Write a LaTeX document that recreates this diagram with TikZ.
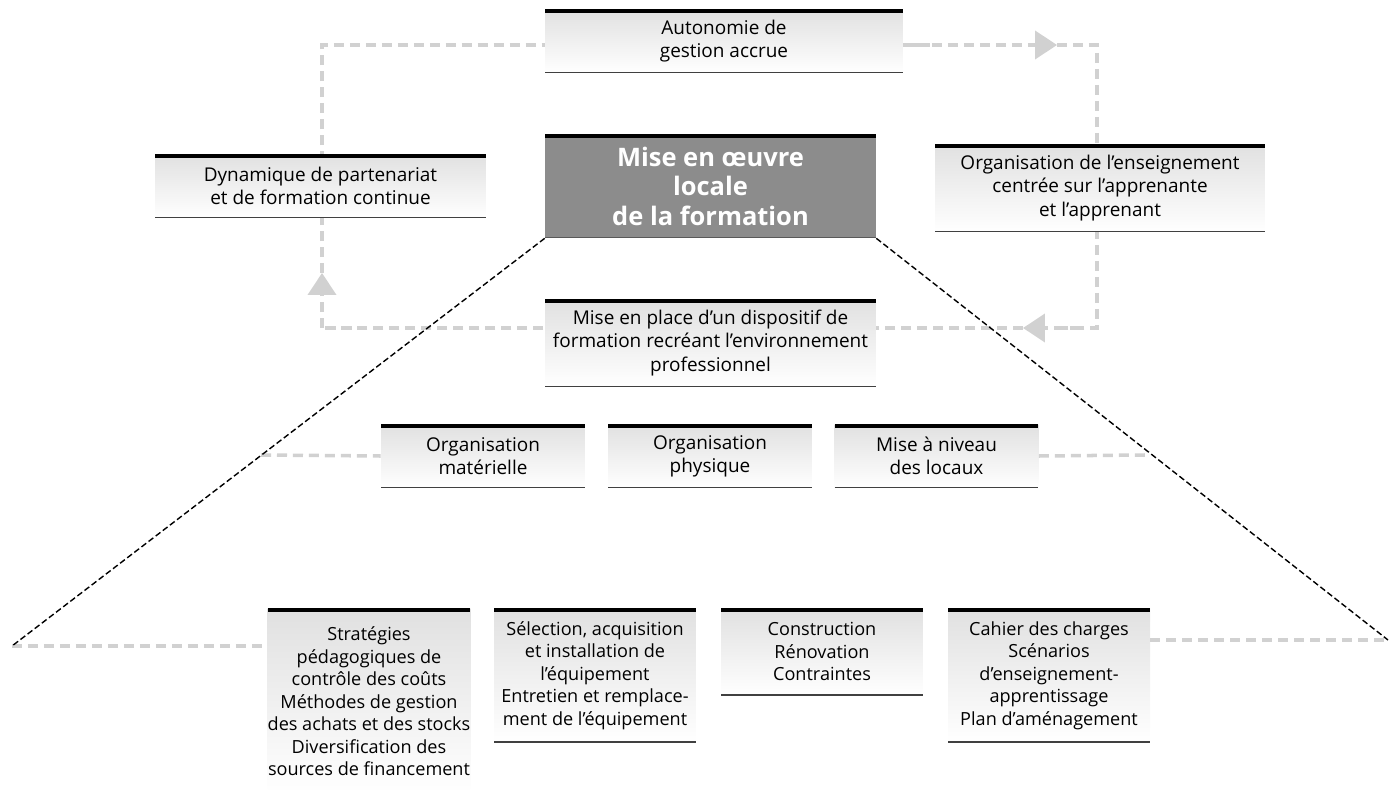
\documentclass[tikz,border=0pt]{standalone}
\usepackage{fontspec}
\setmainfont{Open Sans}
\usetikzlibrary{arrows.meta,calc}
\tikzset{
  box/.style={inner sep=0pt, align=center, top color=black!12, bottom color=white,
    font=\fontsize{10.8}{13.2}\selectfont,
    path picture={
      \draw[line width=4.6pt] (path picture bounding box.north west) -- (path picture bounding box.north east);
      \draw[black!75,line width=1.6pt] (path picture bounding box.south west) -- (path picture bounding box.south east);}},
  smallbox/.style={box, font=\fontsize{10.3}{12.8}\selectfont},
  centralbox/.style={inner sep=0pt, align=center, fill=black!45, text=white,
    font=\fontsize{14.5}{16.8}\selectfont\bfseries,
    path picture={
      \draw[line width=4.6pt] (path picture bounding box.north west) -- (path picture bounding box.north east);
      \draw[black!65,line width=1.6pt] (path picture bounding box.south west) -- (path picture bounding box.south east);}},
  loopline/.style={draw=black!18, line width=2pt, dash pattern=on 5.7pt off 3.4pt},
  looparrow/.style={loopline, -{Triangle[length=12.5pt,width=16pt]}},
  diag/.style={draw=black, line width=0.8pt, dash pattern=on 3.4pt off 1.7pt},
}
\begin{document}
\begin{tikzpicture}[x=0.02cm,y=-0.02cm]
\useasboundingbox (0,0) rectangle (1398,790);
% loop coordinates
\coordinate (c1) at (322,45);
\coordinate (c2) at (1097,45);
\coordinate (c3) at (1097,328);
\coordinate (c4) at (322,328);
\coordinate (tipL) at (322,273);
\coordinate (tipT) at (1057,45);
\coordinate (tipB) at (1023,328);
\coordinate (L) at (12,646);
\coordinate (R) at (1388,640);
\coordinate (ml) at (261,455);
\coordinate (mr) at (1145,455);
% gray loop
\draw[looparrow] (c4) -- (tipL);
\draw[loopline] (tipL) -- (c1) -- (930,45);
\draw[looparrow] (900,45) -- (tipT);
\draw[loopline] (tipT) -- (c2) -- (c3) -- (1060,328);
\draw[looparrow] (1080,328) -- (tipB);
\draw[loopline] (tipB) -- (c4);
% boxes
\node[box, minimum width=7.16cm, minimum height=1.28cm] (auto) at (724,41) {Autonomie de\\gestion accrue};
\node[centralbox, minimum width=6.62cm, minimum height=2.08cm] (central) at (710.5,186) {Mise en œuvre\\locale\\de la formation};
\node[box, minimum width=6.62cm, minimum height=1.28cm] (dyn) at (320.5,186) {Dynamique de partenariat\\et de formation continue};
\node[box, minimum width=6.60cm, minimum height=1.76cm] (orgens) at (1100,188) {Organisation de l’enseignement\\centrée sur l’apprenante\\et l’apprenant};
\node[box, minimum width=6.62cm, minimum height=1.76cm] (place) at (710.5,343) {Mise en place d’un dispositif de\\formation recréant l’environnement\\professionnel};
\node[box, minimum width=4.08cm, minimum height=1.28cm] (mat) at (483,456) {Organisation\\matérielle};
\node[box, minimum width=4.08cm, minimum height=1.28cm] (phys) at (710,456) {Organisation\\physique};
\node[box, minimum width=4.08cm, minimum height=1.28cm] (loc) at (936.5,456) {Mise à niveau\\des locaux};
\node[smallbox, anchor=north, minimum width=4.04cm, minimum height=3.72cm] (b1) at (369,608) {Stratégies\\pédagogiques de\\contrôle des coûts\\Méthodes de gestion\\des achats et des stocks\\Diversification des\\sources de financement};
\node[smallbox, anchor=north, minimum width=4.04cm, minimum height=2.68cm] (b2) at (595,608) {Sélection, acquisition\\et installation de\\l’équipement\\Entretien et remplace-\\ment de l’équipement};
\node[smallbox, anchor=north, minimum width=4.04cm, minimum height=1.74cm] (b3) at (822,608) {Construction\\Rénovation\\Contraintes};
\node[smallbox, anchor=north, minimum width=4.04cm, minimum height=2.68cm] (b4) at (1049,608) {Cahier des charges\\Scénarios\\d’enseignement-\\apprentissage\\Plan d’aménagement};
% horizontal gray lines (outside the boxes)
\draw[loopline] (ml) -- (mat.west);
\draw[loopline] (loc.east) -- (mr);
\draw[loopline] (L) -- (b1.west |- L);
\draw[loopline] (b4.east |- R) -- (R);
% black diagonals
\draw[diag] (central.south west) -- (L);
\draw[diag] (central.south east) -- (R);
\end{tikzpicture}
\end{document}
